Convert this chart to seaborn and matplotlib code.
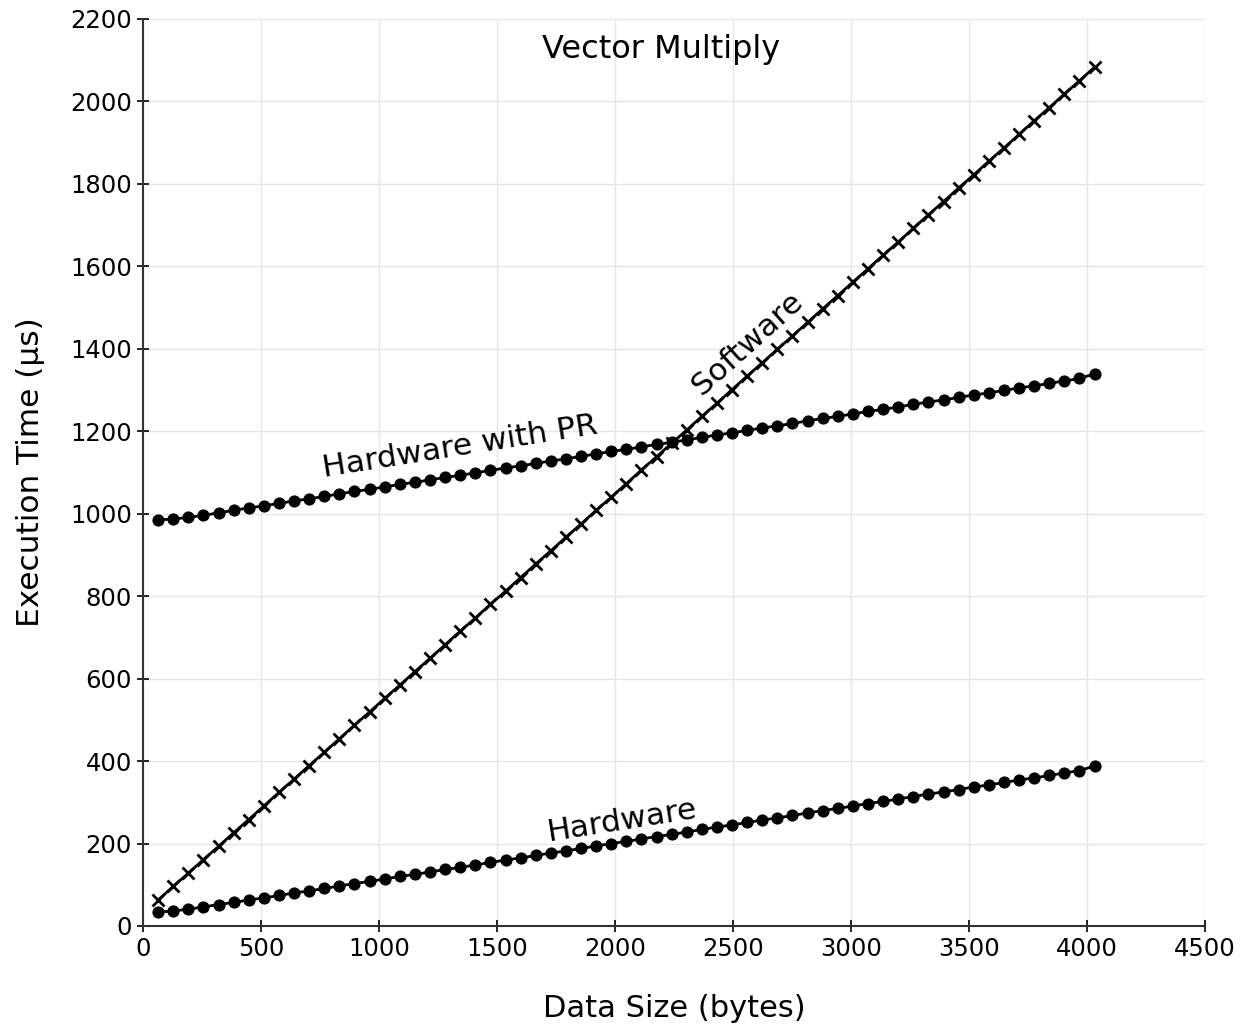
import matplotlib
matplotlib.use("Agg")
import matplotlib.pyplot as plt
import pandas as pd
import seaborn as sns

# data size (bytes)
data_size = [64, 128, 192, 256, 320, 384, 448, 512, 576, 640, 704, 768, 832, 896, 960,
             1024, 1088, 1152, 1216, 1280, 1344, 1408, 1472, 1536, 1600, 1664, 1728, 1792,
             1856, 1920, 1984, 2048, 2112, 2176, 2240, 2304, 2368, 2432, 2496, 2560, 2624,
             2688, 2752, 2816, 2880, 2944, 3008, 3072, 3136, 3200, 3264, 3328, 3392, 3456,
             3520, 3584, 3648, 3712, 3776, 3840, 3904, 3968, 4032]

# execution times (us)
software = [63, 96, 128, 161, 193, 226, 258, 291, 324, 356, 389, 421, 454, 487, 519,
            552, 584, 617, 649, 682, 715, 747, 780, 812, 845, 878, 910, 943, 975, 1008,
            1040, 1073, 1106, 1138, 1171, 1203, 1236, 1268, 1301, 1334, 1366, 1399, 1431,
            1464, 1497, 1529, 1562, 1594, 1627, 1659, 1692, 1725, 1757, 1790, 1822, 1855,
            1887, 1920, 1953, 1985, 2018, 2050, 2083]

hardware = [34, 36, 41, 46, 52, 57, 63, 68, 74, 80, 85, 91, 97, 103, 108,
            114, 120, 125, 131, 137, 142, 148, 154, 160, 165, 171, 177, 182, 188, 194,
            200, 205, 211, 217, 222, 228, 234, 240, 245, 251, 257, 262, 268, 274, 280,
            285, 291, 297, 302, 308, 314, 320, 325, 331, 337, 342, 348, 354, 359, 365,
            371, 377, 388]

hardware_pr = [985, 987, 991, 996, 1002, 1008, 1014, 1019, 1025, 1031, 1036, 1042, 1048,
               1054, 1059, 1065, 1071, 1076, 1082, 1088, 1093, 1099, 1105, 1111, 1116,
               1122, 1128, 1133, 1139, 1145, 1151, 1156, 1162, 1168, 1173, 1179, 1185,
               1191, 1196, 1202, 1208, 1213, 1219, 1225, 1231, 1236, 1242, 1248, 1253,
               1259, 1265, 1271, 1276, 1282, 1288, 1293, 1299, 1305, 1310, 1316, 1322,
               1328, 1339]

df = pd.DataFrame({"size": data_size, "Software": software,
                   "Hardware": hardware, "Hardware with PR": hardware_pr})

sns.set_theme(style="whitegrid")
plt.rcParams['font.family'] = ['DejaVu Sans']
plt.rcParams['text.color'] = 'black'
plt.rcParams['axes.labelcolor'] = 'black'
plt.rcParams['xtick.color'] = 'black'
plt.rcParams['ytick.color'] = 'black'

fig = plt.figure(figsize=(12.49, 10.30), dpi=100)
ax = fig.add_axes([0.1145, 0.101, 0.8503, 0.8806])

sns.lineplot(data=df, x="size", y="Software", ax=ax, color="black", lw=2,
             marker="x", markersize=8, markeredgewidth=2, markeredgecolor="black")
sns.lineplot(data=df, x="size", y="Hardware with PR", ax=ax, color="black", lw=2,
             marker="o", markersize=8, markeredgecolor="black")
sns.lineplot(data=df, x="size", y="Hardware", ax=ax, color="black", lw=2,
             marker="o", markersize=8, markeredgecolor="black")

ax.set_xlim(0, 4500)
ax.set_ylim(0, 2200)
ax.set_xticks(range(0, 4501, 500))
ax.set_yticks(range(0, 2201, 200))
ax.grid(True, color="#e6e6e6", lw=1)
ax.set_facecolor("white")
for s in ["top", "right"]:
    ax.spines[s].set_visible(False)
for s in ["left", "bottom"]:
    ax.spines[s].set_color("#333333")
    ax.spines[s].set_linewidth(1.5)
ax.tick_params(direction="inout", length=8, width=1.2, labelsize=17.5, colors="black",
               left=True, bottom=True, pad=4)

ax.set_xlabel("Data Size (bytes)", fontsize=22, labelpad=24)
ax.set_ylabel("Execution Time (µs)", fontsize=22.5, labelpad=18)

ax.text(2195, 2125, "Vector Multiply", fontsize=23, ha="center", va="center")
ax.text(1343, 1162, "Hardware with PR", fontsize=22.5, ha="center", va="center",
        rotation=9, rotation_mode="anchor")
ax.text(2030, 255, "Hardware", fontsize=22.5, ha="center", va="center",
        rotation=9, rotation_mode="anchor")
ax.text(2560, 1412, "Software", fontsize=22.5, ha="center", va="center",
        rotation=42, rotation_mode="anchor")

fig.savefig("out.png", dpi=100)
